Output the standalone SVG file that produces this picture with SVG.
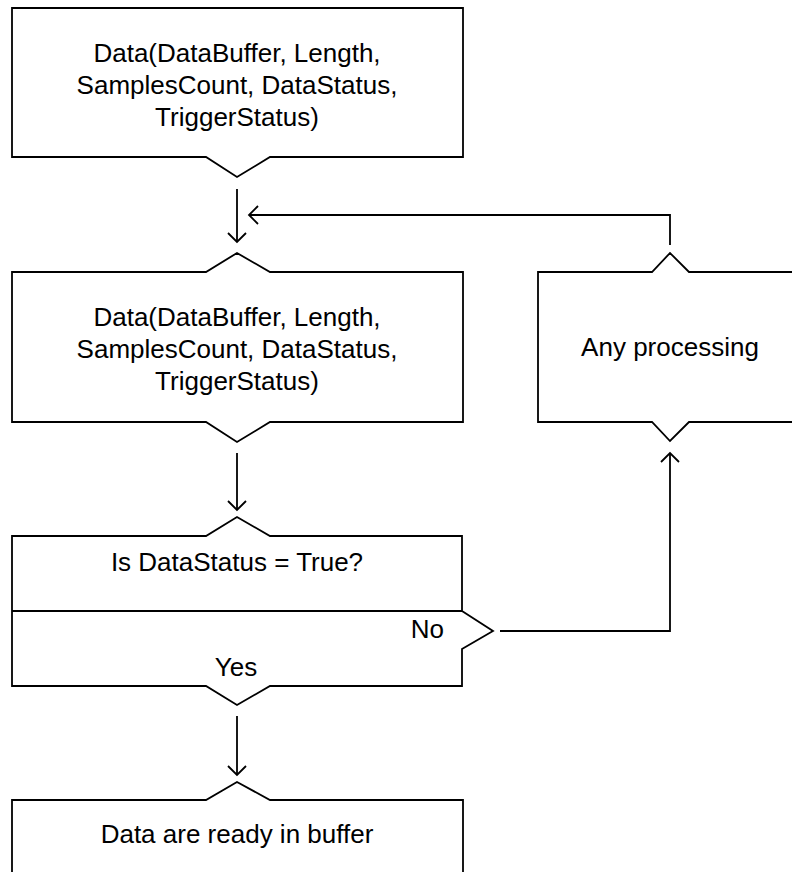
<svg xmlns="http://www.w3.org/2000/svg" width="792" height="872" viewBox="0 0 792 872">
  <style>
    .shape { fill: #ffffff; stroke: #000000; stroke-width: 1.8; stroke-linejoin: miter; }
    .line { fill: none; stroke: #000000; stroke-width: 1.8; }
    .lbl { font-family: "Liberation Sans", Arial, sans-serif; font-size: 26px; fill: #000000; }
    .c { text-anchor: middle; }
  </style>
  <defs>
    <marker id="arr" viewBox="-12 -12 24 24" refX="0" refY="0" markerWidth="24" markerHeight="24" markerUnits="userSpaceOnUse" orient="auto">
      <path d="M-9,-9 L0,0 L-9,9" fill="none" stroke="#000000" stroke-width="1.8"/>
    </marker>
  </defs>
  <rect width="792" height="872" fill="#ffffff"/>

  <g id="connectors">
    <line class="line" x1="237" y1="189" x2="237" y2="242" marker-end="url(#arr)"/>
    <polyline class="line" points="670,245 670,215 249,215" marker-end="url(#arr)"/>
    <line class="line" x1="237" y1="453" x2="237" y2="510" marker-end="url(#arr)"/>
    <polyline class="line" points="500,631 670,631 670,453" marker-end="url(#arr)"/>
    <line class="line" x1="237" y1="716" x2="237" y2="775" marker-end="url(#arr)"/>
  </g>

  <g id="node-data-call-1">
    <path class="shape" d="M12,8 H463 V157 H270 L237,177 L206,157 H12 Z"/>
    <text class="lbl c" x="237" y="62">Data(DataBuffer, Length,</text>
    <text class="lbl c" x="237" y="94">SamplesCount, DataStatus,</text>
    <text class="lbl c" x="237" y="126">TriggerStatus)</text>
  </g>

  <g id="node-data-call-2">
    <path class="shape" d="M12,272 H206 L237,253 L270,272 H463 V422 H270 L237,442 L206,422 H12 Z"/>
    <text class="lbl c" x="237" y="326">Data(DataBuffer, Length,</text>
    <text class="lbl c" x="237" y="358">SamplesCount, DataStatus,</text>
    <text class="lbl c" x="237" y="390">TriggerStatus)</text>
  </g>

  <g id="node-any-processing">
    <path class="shape" d="M800,272 H689 L670,253 L652,272 H538 V422 H652 L670,441 L689,422 H800"/>
    <text class="lbl c" x="670" y="356">Any processing</text>
  </g>

  <g id="node-decision">
    <path class="shape" d="M12,536 H206 L237,517 L270,536 H462 V611 L493,631 L462,649 V686 H270 L237,705 L206,686 H12 Z"/>
    <line class="line" x1="12" y1="611" x2="462" y2="611"/>
    <text class="lbl c" x="237" y="571">Is DataStatus = True?</text>
    <text class="lbl" x="444" y="638" text-anchor="end">No</text>
    <text class="lbl c" x="236" y="676">Yes</text>
  </g>

  <g id="node-data-ready">
    <path class="shape" d="M12,880 V800 H206 L237,782 L270,800 H463 V880"/>
    <text class="lbl c" x="237" y="843">Data are ready in buffer</text>
  </g>
</svg>
